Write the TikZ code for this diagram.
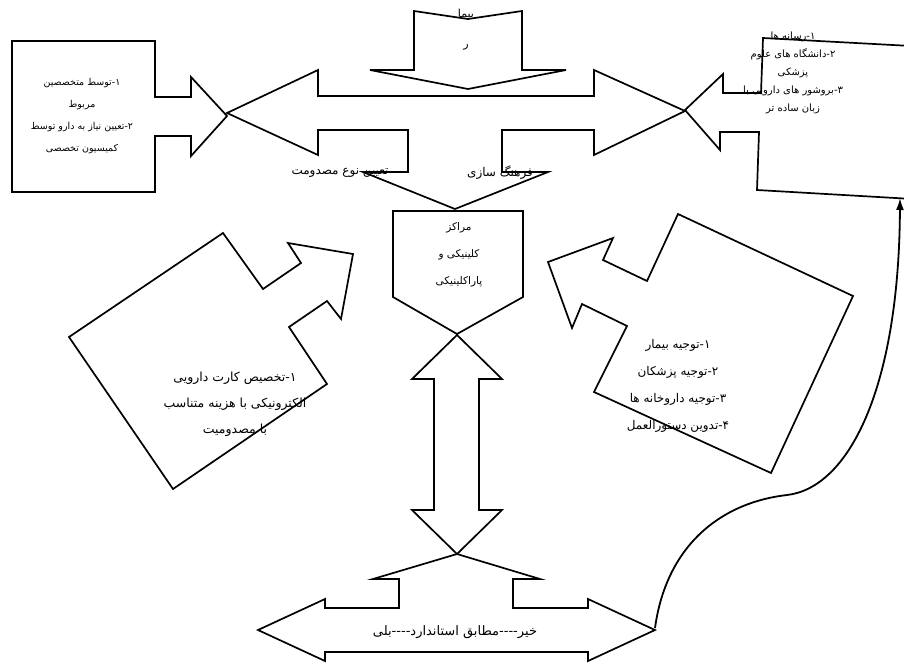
\documentclass[tikz,border=0pt]{standalone}
\usepackage{fontspec}
\usetikzlibrary{arrows.meta}
\TeXXeTstate=1
\newfontfamily\arabicfont[Script=Arabic]{DejaVu Sans}
\newcommand\persR[1]{\beginR #1\endR}
\tikzset{
  outline/.style={draw=black, line width=1.7pt, line join=miter},
  txt/.style={align=center, inner sep=0pt, text=black},
}
\begin{document}
\begin{tikzpicture}[x=1pt,y=-1pt]
\useasboundingbox (0,0) rectangle (904,662);
\clip (0,0) rectangle (904,662);
\fill[white] (0,0) rectangle (904,662);

% top-left box with right arrow
\draw[outline] (12,41) -- (155,41) -- (155,97) -- (191,97) -- (191,77) -- (227,116)
  -- (191,156) -- (191,136) -- (155,136) -- (155,192) -- (12,192) -- cycle;

% top notched down arrow
\draw[outline] (414,11) -- (468,19) -- (522,11) -- (522,70) -- (566,70) -- (468,89)
  -- (370,70) -- (414,70) -- cycle;

% left-right-down arrow
\draw[outline] (227,113) -- (318,70) -- (318,96) -- (594,96) -- (594,70) -- (685,111)
  -- (594,155) -- (594,130) -- (502,130) -- (502,172) -- (548,172) -- (455,209)
  -- (363,172) -- (408,172) -- (408,130) -- (318,130) -- (318,155) -- cycle;

% right box with left arrow (slightly tilted, runs off the page)
\draw[outline] (930,47) -- (763,38) -- (761,93) -- (723,93) -- (723,74) -- (685,110)
  -- (720,150) -- (720,132) -- (759,132) -- (757,190) -- (930,200);

% centre pentagon
\draw[outline] (393,211) -- (523,211) -- (523,297) -- (457,334) -- (393,297) -- cycle;

% vertical double arrow
\draw[outline] (457,335) -- (502,379) -- (479,379) -- (479,510) -- (502,510) -- (457,554)
  -- (412,510) -- (434,510) -- (434,379) -- (412,379) -- cycle;

% bottom left-right-up arrow
\draw[outline] (258,630) -- (325,599) -- (325,608) -- (399,608) -- (399,579) -- (373,579)
  -- (457,554) -- (540,579) -- (513,579) -- (513,608) -- (588,608) -- (588,599)
  -- (655,630) -- (588,661) -- (588,652) -- (325,652) -- (325,661) -- cycle;

% left rotated callout
\draw[outline] (69,337) -- (223,233) -- (263,289) -- (301,263) -- (288,243) -- (353,254)
  -- (341,319) -- (327,301) -- (289,327) -- (327,384) -- (173,489) -- cycle;

% right rotated callout
\draw[outline] (678,214) -- (853,296) -- (771,473) -- (594,392) -- (627,326) -- (582,304)
  -- (572,328) -- (548,262) -- (613,238) -- (603,260) -- (647,281) -- cycle;

% curved connector
\coordinate (cstart) at (655,628);
\coordinate (cend) at (900,198);
\draw[line width=1.8pt, -{Latex[length=12pt,width=8pt]}] (cstart)
  .. controls (666,548) and (718,503) .. (787,495)
  .. controls (848,488) and (899,390) .. (cend);

% texts
\node[txt, font=\arabicfont\fontsize{9.5}{22}\selectfont] (tl) at (82,116)
  {\persR{۱-توسط متخصصین}\\ \persR{مربوط}\\ \persR{۲-تعیین نیاز به دارو توسط}\\ \persR{کمیسیون تخصصی}};

\node[txt, font=\arabicfont\fontsize{11}{30}\selectfont] (top) at (466,30)
  {\persR{بیما}\\ \persR{ر}};

\node[txt, font=\arabicfont\fontsize{10}{18}\selectfont] (tr) at (793,73)
  {\persR{۱-رسانه ها}\\ \persR{۲-دانشگاه های علوم}\\ \persR{پزشکی}\\ \persR{۳-بروشور های دارویی با}\\ \persR{زبان ساده تر}};

\node[txt, font=\arabicfont\fontsize{12}{12}\selectfont] (lab1) at (340,173) {\persR{تعیین نوع مصدومت}};
\node[txt, font=\arabicfont\fontsize{12}{12}\selectfont] (lab2) at (500,173) {\persR{فرهنگ سازی}};

\node[txt, font=\arabicfont\fontsize{10.5}{27}\selectfont] (ctr) at (459,255)
  {\persR{مراکز}\\ \persR{کلینیکی و}\\ \persR{پاراکلینیکی}};

\node[txt, font=\arabicfont\fontsize{12.5}{26}\selectfont] (lft) at (235,404)
  {\persR{۱-تخصیص کارت دارویی}\\ \persR{الکترونیکی با هزینه متناسب}\\ \persR{با مصدومیت}};

\node[txt, font=\arabicfont\fontsize{12}{27}\selectfont] (rgt) at (678,386)
  {\persR{۱-توجیه بیمار}\\ \persR{۲-توجیه پزشکان}\\ \persR{۳-توجیه داروخانه ها}\\ \persR{۴-تدوین دستورالعمل}};

\node[txt, font=\arabicfont\fontsize{13}{12}\selectfont] (bot) at (455,632)
  {\persR{خیر{-}{-}{-}{-}مطابق استاندارد{-}{-}{-}{-}بلی}};
\end{tikzpicture}
\end{document}
